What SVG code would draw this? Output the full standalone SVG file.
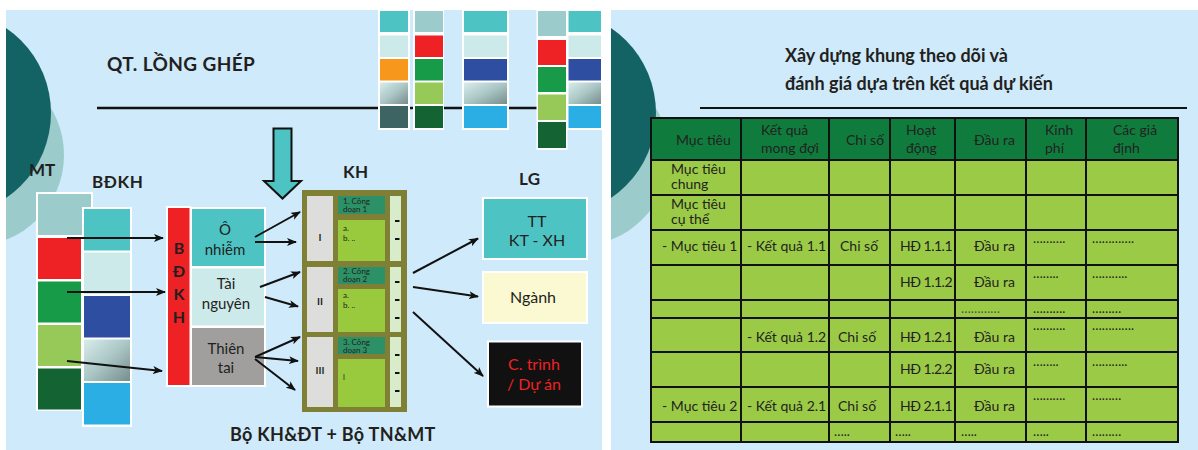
<svg xmlns="http://www.w3.org/2000/svg" width="1198" height="450" viewBox="0 0 1198 450">
<defs>
<style>
.t{font-family:Lato,"Liberation Sans",sans-serif;fill:#231F20}
.b{font-weight:700}
.n{font-size:15px}
.s{font-size:8px}
.c{text-anchor:middle}
.tb{font-size:14px}
.hd{letter-spacing:-0.5px}
.dot{font-size:13px}
.cn{stroke:#111;stroke-width:2;fill:none;marker-end:url(#ah)}
.wf{fill:#fff}
.teal{fill:#4EC3C4}
.lite{fill:#CDEAEB}
.pale{fill:#9BCBCB}
.red{fill:#EE2224}
.grn{fill:#179B48}
.lgr{fill:#96C957}
.dgr{fill:#136333}
.org{fill:#F7981D}
.slt{fill:#3E6363}
.blu{fill:#2E4FA1}
.sky{fill:#2BAEE4}
.grd{fill:url(#gr)}
.tl{stroke:#111;stroke-width:2}
</style>
<linearGradient id="gr" x1="0" y1="0" x2="1" y2="1">
<stop offset="0" stop-color="#D8EDEC"/>
<stop offset="0.5" stop-color="#AAC6C5"/>
<stop offset="1" stop-color="#778D8C"/>
</linearGradient>
<marker id="ah" markerWidth="10" markerHeight="8" refX="9" refY="4" orient="auto" markerUnits="userSpaceOnUse">
<path d="M0,0 L10,4 L0,8 L2.5,4 Z" fill="#111"/>
</marker>
<clipPath id="clipL"><rect x="6" y="10" width="596" height="440"/></clipPath>
<clipPath id="clipR"><rect x="611" y="10" width="587" height="440"/></clipPath>
</defs>

<rect width="1198" height="450" fill="#fff"/>
<rect x="6" y="10" width="596" height="440" fill="#CFEAFA"/>
<rect x="611" y="10" width="587" height="440" fill="#CFEAFA"/>

<!-- decorative discs -->
<g clip-path="url(#clipL)">
<circle cx="-27" cy="155" r="91" fill="#9BCBCB"/>
<circle cx="-52" cy="113" r="103" fill="#136364"/>
</g>
<g clip-path="url(#clipR)">
<circle cx="578" cy="155" r="91" fill="#9BCBCB"/>
<circle cx="553" cy="113" r="103" fill="#136364"/>
</g>

<!-- left slide heading -->
<text class="t b" x="107" y="71" font-size="19" letter-spacing="0.4">QT. LỒNG GHÉP</text>
<line x1="97" y1="108" x2="600" y2="108" stroke="#111" stroke-width="2.5"/>

<!-- colour swatch strips -->
<g id="swatches">
<rect class="wf" x="378" y="10" width="32" height="120"/>
<rect class="teal" x="380" y="11" width="28" height="21"/>
<rect class="lite" x="380" y="35.5" width="28" height="21.5"/>
<rect class="org" x="380" y="59" width="28" height="21.5"/>
<rect class="grd" x="380" y="82.5" width="28" height="21.5"/>
<rect class="slt" x="380" y="106" width="28" height="22"/>

<rect class="wf" x="413" y="10" width="31" height="120"/>
<rect class="pale" x="415" y="11" width="28" height="21"/>
<rect class="red" x="415" y="35.5" width="28" height="21.5"/>
<rect class="grn" x="415" y="59" width="28" height="21.5"/>
<rect class="lgr" x="415" y="82.5" width="28" height="21.5"/>
<rect class="dgr" x="415" y="106" width="28" height="22"/>

<rect class="wf" x="462" y="10" width="47" height="120"/>
<rect class="teal" x="464" y="11" width="43" height="21"/>
<rect class="lite" x="464" y="35.5" width="43" height="21.5"/>
<rect class="blu" x="464" y="59" width="43" height="21.5"/>
<rect class="grd" x="464" y="82.5" width="43" height="21.5"/>
<rect class="sky" x="464" y="106" width="43" height="22"/>

<rect class="wf" x="536.5" y="10" width="31" height="140"/>
<rect class="pale" x="538" y="11" width="28" height="25"/>
<rect class="red" x="538" y="40" width="28" height="25"/>
<rect class="grn" x="538" y="67" width="28" height="25"/>
<rect class="lgr" x="538" y="94.5" width="28" height="25.5"/>
<rect class="dgr" x="538" y="122" width="28" height="26"/>

<rect class="wf" x="567" y="10" width="35" height="120"/>
<rect class="teal" x="568.5" y="11" width="32.5" height="21"/>
<rect class="lite" x="568.5" y="35.5" width="32.5" height="21.5"/>
<rect class="blu" x="568.5" y="59" width="32.5" height="21.5"/>
<rect class="grd" x="568.5" y="82.5" width="32.5" height="21.5"/>
<rect class="sky" x="568.5" y="106" width="32.5" height="22"/>
</g>

<!-- column labels -->
<text class="t b" x="29" y="176" font-size="17">MT</text>
<text class="t b" x="92" y="188" font-size="17" letter-spacing="0.6">BĐKH</text>
<text class="t b" x="343" y="178" font-size="17" letter-spacing="0.4">KH</text>
<text class="t b" x="519" y="185" font-size="17" letter-spacing="0.4">LG</text>

<!-- MT stack -->
<g id="mt">
<rect class="wf" x="36" y="192" width="57" height="45"/>
<rect class="wf" x="36" y="236" width="47" height="175"/>
<rect class="pale" x="38" y="194" width="53" height="41"/>
<rect class="red" x="38" y="238" width="43" height="41"/>
<rect class="grn" x="38" y="281.5" width="43" height="41"/>
<rect class="lgr" x="38" y="325" width="43" height="41"/>
<rect class="dgr" x="38" y="368.5" width="43" height="41"/>
</g>

<!-- BĐKH stack -->
<g id="bdkh-stack">
<rect class="wf" x="82" y="207" width="50" height="220"/>
<rect class="teal" x="84" y="209" width="46" height="41.5"/>
<rect class="lite" x="84" y="252.5" width="46" height="41.5"/>
<rect class="blu" x="84" y="296" width="46" height="41.5"/>
<rect class="grd" x="84" y="339.5" width="46" height="41.5"/>
<rect class="sky" x="84" y="383" width="46" height="41.5"/>
</g>

<!-- vertical BĐKH bar -->
<g id="bdkh-bar">
<rect class="wf" x="166" y="206" width="25" height="181"/>
<rect class="red" x="168" y="208" width="21.5" height="177"/>
<text class="t b c" x="179" y="254" font-size="16">B</text>
<text class="t b c" x="179" y="277" font-size="16">Đ</text>
<text class="t b c" x="179" y="300" font-size="16">K</text>
<text class="t b c" x="179" y="323" font-size="16">H</text>
</g>

<!-- impact boxes -->
<rect class="wf" x="190.5" y="207" width="75.5" height="180"/>
<g id="o-nhiem">
<rect class="teal" x="192" y="209" width="72" height="57"/>
<text class="t n c" x="225" y="235">Ô</text>
<text class="t n c" x="225" y="255">nhiễm</text>
</g>
<g id="tai-nguyen">
<rect class="lite" x="192" y="268.5" width="72" height="57"/>
<text class="t n c" x="226" y="289">Tài</text>
<text class="t n c" x="226" y="309">nguyên</text>
</g>
<g id="thien-tai">
<rect fill="#A09F9E" x="192" y="328" width="72" height="57"/>
<text class="t n c" x="226" y="354">Thiên</text>
<text class="t n c" x="226" y="373">tai</text>
</g>

<!-- big downward arrow -->
<g id="down-arrow">
<polygon points="273.5,128.5 291.5,128.5 291.5,181 301,181 282.5,198.5 264,181 273.5,181" fill="#4EC3C4" stroke="#111" stroke-width="2" stroke-linejoin="miter"/>
</g>

<!-- KH plan block -->
<g id="kh">
<rect x="302" y="190" width="105" height="222" fill="#807F36"/>
<rect x="307" y="196" width="26" height="65" fill="#DDDDDC"/>
<rect x="307" y="267" width="26" height="65" fill="#DDDDDC"/>
<rect x="307" y="337" width="26" height="70" fill="#DDDDDC"/>
<rect x="338" y="196" width="47" height="18" fill="#2C9166"/>
<rect x="338" y="220" width="47" height="41" fill="#99C93C"/>
<rect x="338" y="267" width="47" height="17" fill="#2C9166"/>
<rect x="338" y="289" width="47" height="43" fill="#99C93C"/>
<rect x="338" y="337" width="47" height="17" fill="#2C9166"/>
<rect x="338" y="359" width="47" height="48" fill="#99C93C"/>
<rect x="390" y="196" width="11" height="65" fill="#D8EBCB"/>
<rect x="390" y="267" width="11" height="65" fill="#D8EBCB"/>
<rect x="390" y="337" width="11" height="70" fill="#D8EBCB"/>
<text class="t c" x="320" y="241" font-size="10" font-weight="700">I</text>
<text class="t c" x="320" y="305" font-size="10" font-weight="700">II</text>
<text class="t c" x="320" y="374" font-size="10" font-weight="700">III</text>
<text class="t s" x="343" y="204">1. Công</text>
<text class="t s" x="343" y="212">doạn 1</text>
<text class="t s" x="343" y="231">a.</text>
<text class="t s" x="343" y="241">b. ..</text>
<text class="t s" x="343" y="274">2. Công</text>
<text class="t s" x="343" y="282">doạn 2</text>
<text class="t s" x="343" y="298">a.</text>
<text class="t s" x="343" y="308">b. ..</text>
<text class="t s" x="343" y="345">3. Công</text>
<text class="t s" x="343" y="353">doạn 3</text>
<text class="t s" x="343" y="380">l</text>
<g stroke="#111" stroke-width="2">
<line x1="395" y1="221" x2="399.5" y2="221"/>
<line x1="395" y1="239" x2="399.5" y2="239"/>
<line x1="395" y1="282" x2="399.5" y2="282"/>
<line x1="395" y1="300" x2="399.5" y2="300"/>
<line x1="395" y1="318" x2="399.5" y2="318"/>
<line x1="395" y1="355" x2="399.5" y2="355"/>
<line x1="395" y1="373" x2="399.5" y2="373"/>
<line x1="395" y1="391" x2="399.5" y2="391"/>
</g>
</g>

<!-- LG outcome boxes -->
<g id="tt-ktxh">
<rect class="wf" x="482" y="197" width="106" height="63"/>
<rect class="teal" x="484" y="199" width="102" height="59"/>
<text class="t c" x="537" y="227" font-size="16">TT</text>
<text class="t c" x="537" y="246" font-size="16">KT - XH</text>
</g>
<g id="nganh">
<rect class="wf" x="482" y="271" width="106" height="53"/>
<rect x="484" y="273" width="102" height="49" fill="#FAF9D2"/>
<text class="t c" x="533" y="303" font-size="16">Ngành</text>
</g>
<g id="ctrinh">
<rect class="wf" x="487" y="340.5" width="96" height="67"/>
<rect x="489" y="342.5" width="92" height="63" fill="#111"/>
<text class="c" x="534" y="370" font-size="16" font-family="Lato,'Liberation Sans',sans-serif" fill="#EE2224">C. trình</text>
<text class="c" x="534" y="390" font-size="16" font-family="Lato,'Liberation Sans',sans-serif" fill="#EE2224">/ Dự án</text>
</g>

<!-- connectors -->
<g id="connectors">
<path class="cn" d="M67,238 L163,238"/>
<path class="cn" d="M67,292 L165,292"/>
<path class="cn" d="M67,361 L162,371"/>
<path class="cn" d="M255,237 L300,212"/>
<path class="cn" d="M255,242 L296,242"/>
<path class="cn" d="M260,287 L300,272"/>
<path class="cn" d="M265,297 L298,306.5"/>
<path class="cn" d="M255,357 L300,337"/>
<path class="cn" d="M255,357 L298,361"/>
<path class="cn" d="M255,359 L295,390"/>
<path class="cn" d="M413,273 L478,238.5"/>
<path class="cn" d="M413,287 L478,296.5"/>
<path class="cn" d="M413,312 L483,376"/>
</g>

<text class="t b" x="230" y="441" font-size="18" letter-spacing="0.3">Bộ KH&amp;ĐT + Bộ TN&amp;MT</text>

<!-- right slide heading -->
<text class="t b" x="785" y="62" font-size="18">Xây dựng khung theo dõi và</text>
<text class="t b" x="785" y="90" font-size="18">đánh giá dựa trên kết quả dự kiến</text>
<line x1="700" y1="108" x2="1187" y2="108" stroke="#111" stroke-width="2"/>

<!-- monitoring and evaluation framework table -->
<g id="table">
<rect x="651" y="118" width="527" height="42" fill="#0F7C3E"/>
<rect x="651" y="160" width="527" height="282" fill="#9BCA47"/>
<g class="t tb">
<text x="676" y="145">Mục tiêu</text>
<text x="761" y="135">Kết quả</text>
<text x="761" y="153">mong đợi</text>
<text x="846" y="145">Chi số</text>
<text x="906" y="135">Hoạt</text>
<text x="906" y="153">động</text>
<text x="974" y="145">Đầu ra</text>
<text x="1045" y="135">Kinh</text>
<text x="1045" y="153">phí</text>
<text x="1113" y="135">Các giả</text>
<text x="1113" y="153">định</text>

<text x="671" y="174">Mục tiêu</text>
<text x="671" y="189">chung</text>
<text x="671" y="209">Mục tiêu</text>
<text x="671" y="224">cụ thể</text>

<text x="662" y="251">- Mục tiêu 1</text>
<text x="747" y="251">- Kết quả 1.1</text>
<text x="840" y="251">Chi số</text>
<text class="hd" x="900" y="251">HĐ 1.1.1</text>
<text x="974" y="251">Đầu ra</text>

<text class="hd" x="900" y="287">HĐ 1.1.2</text>
<text x="974" y="287">Đầu ra</text>

<text x="747" y="342">- Kết quả  1.2</text>
<text x="838" y="342">Chi số</text>
<text class="hd" x="900" y="342">HĐ 1.2.1</text>
<text x="974" y="342">Đầu ra</text>

<text class="hd" x="900" y="374">HĐ 1.2.2</text>
<text x="974" y="374">Đầu ra</text>

<text x="662" y="411">- Mục tiêu 2</text>
<text x="747" y="411">- Kết quả 2.1</text>
<text x="838" y="411">Chi số</text>
<text class="hd" x="900" y="411">HĐ 2.1.1</text>
<text x="974" y="411">Đầu ra</text>
</g>
<g class="t dot">
<text x="1033" y="243">……….</text>
<text x="1092" y="243">………….</text>
<text x="1033" y="278">……..</text>
<text x="1092" y="278">………..</text>
<text x="961" y="313" fill="#4D5D40">…………</text>
<text x="1033" y="313">……….</text>
<text x="1092" y="313">………</text>
<text x="1033" y="330">……….</text>
<text x="1092" y="330">………….</text>
<text x="1033" y="366">……..</text>
<text x="1092" y="366">………..</text>
<text x="1033" y="400">……….</text>
<text x="1092" y="400">………</text>
<text x="834" y="436">…..</text>
<text x="895" y="436">…..</text>
<text x="961" y="436">…..</text>
<text x="1033" y="436">…..</text>
<text x="1092" y="436">………</text>
</g>
<g class="tl">
<line x1="651" y1="118" x2="651" y2="442"/>
<line x1="741" y1="118" x2="741" y2="442"/>
<line x1="829" y1="118" x2="829" y2="442"/>
<line x1="890" y1="118" x2="890" y2="442"/>
<line x1="955" y1="118" x2="955" y2="442"/>
<line x1="1026" y1="118" x2="1026" y2="442"/>
<line x1="1086" y1="118" x2="1086" y2="442"/>
<line x1="1178" y1="118" x2="1178" y2="442"/>
<line x1="650" y1="118" x2="1179" y2="118"/>
<line x1="650" y1="160" x2="1179" y2="160"/>
<line x1="650" y1="195" x2="1179" y2="195"/>
<line x1="650" y1="230" x2="1179" y2="230"/>
<line x1="650" y1="265" x2="1179" y2="265"/>
<line x1="650" y1="300" x2="1179" y2="300"/>
<line x1="650" y1="318" x2="1179" y2="318"/>
<line x1="650" y1="352" x2="1179" y2="352"/>
<line x1="650" y1="387" x2="1179" y2="387"/>
<line x1="650" y1="422" x2="1179" y2="422"/>
<line x1="650" y1="442" x2="1179" y2="442"/>
</g>
</g>
</svg>
